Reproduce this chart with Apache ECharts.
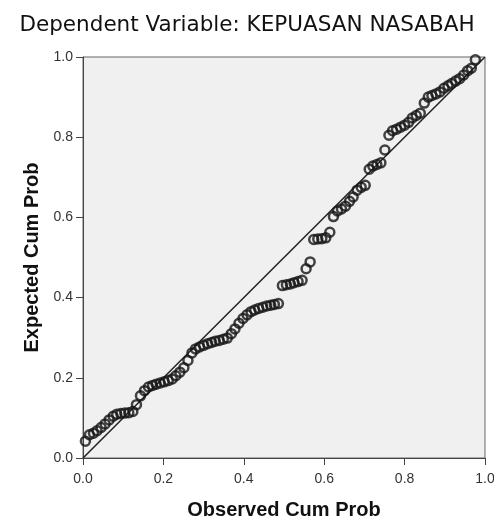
<!DOCTYPE html>
<html>
<head>
<meta charset="utf-8">
<script src="https://cdn.jsdelivr.net/npm/echarts@6/dist/echarts.min.js"></script>
<style>
  html, body { margin: 0; padding: 0; background: #fff; }
  #chart { width: 494px; height: 522px; }
</style>
</head>
<body>
<div id="chart"></div>
<script>
// observed cumulative probability (x) per case
var observedCumProb = [
  0.006, 0.016, 0.026, 0.035, 0.045, 0.055, 0.065, 0.075, 0.084, 0.094,
  0.104, 0.114, 0.124, 0.133, 0.143, 0.153, 0.163, 0.173, 0.182, 0.192,
  0.202, 0.212, 0.222, 0.231, 0.241, 0.251, 0.261, 0.271, 0.280, 0.290,
  0.300, 0.310, 0.320, 0.329, 0.339, 0.349, 0.359, 0.369, 0.378, 0.388,
  0.398, 0.408, 0.418, 0.427, 0.437, 0.447, 0.457, 0.467, 0.476, 0.486,
  0.496, 0.506, 0.516, 0.525, 0.535, 0.545, 0.555, 0.565, 0.574, 0.584,
  0.594, 0.604, 0.614, 0.623, 0.633, 0.643, 0.653, 0.663, 0.672, 0.682,
  0.692, 0.702, 0.712, 0.721, 0.731, 0.741, 0.751, 0.761, 0.770, 0.780,
  0.790, 0.800, 0.810, 0.819, 0.829, 0.839, 0.849, 0.859, 0.868, 0.878,
  0.888, 0.898, 0.908, 0.917, 0.927, 0.937, 0.947, 0.957, 0.966, 0.976
];
// expected cumulative probability (y) per case
var expectedCumProb = [
  0.042, 0.058, 0.062, 0.068, 0.076, 0.085, 0.095, 0.104, 0.109, 0.111,
  0.112, 0.113, 0.116, 0.133, 0.155, 0.168, 0.177, 0.181, 0.184, 0.187,
  0.190, 0.193, 0.197, 0.205, 0.214, 0.225, 0.243, 0.262, 0.272, 0.277,
  0.281, 0.285, 0.288, 0.291, 0.293, 0.296, 0.299, 0.310, 0.322, 0.336,
  0.348, 0.357, 0.365, 0.369, 0.373, 0.376, 0.379, 0.381, 0.383, 0.385,
  0.430, 0.432, 0.434, 0.437, 0.440, 0.443, 0.472, 0.489, 0.545, 0.546,
  0.547, 0.549, 0.563, 0.602, 0.616, 0.621, 0.628, 0.640, 0.651, 0.668,
  0.675, 0.680, 0.720, 0.728, 0.732, 0.736, 0.768, 0.805, 0.816, 0.820,
  0.825, 0.830, 0.837, 0.848, 0.854, 0.860, 0.885, 0.900, 0.904, 0.908,
  0.913, 0.922, 0.928, 0.934, 0.940, 0.946, 0.955, 0.966, 0.972, 0.993
];
// reference diagonal
var diagonal = [0, 1];

var points = observedCumProb.map(function (x, i) {
  return [x, expectedCumProb[i]];
});

var chart = echarts.init(document.getElementById('chart'), null, { renderer: 'canvas' });

var font = '"Liberation Sans", Arial, sans-serif';

chart.setOption({
  animation: false,
  backgroundColor: '#fff',
  title: {
    text: 'Dependent Variable: KEPUASAN NASABAH',
    left: 'center',
    top: 9,
    textStyle: {
      fontFamily: '"DejaVu Sans", sans-serif',
      fontSize: 21.5,
      fontWeight: 'normal',
      color: '#111'
    }
  },
  grid: {
    left: 83,
    right: 9,
    top: 57,
    bottom: 64,
    show: true,
    backgroundColor: '#f0f0f0',
    borderColor: '#666',
    borderWidth: 1,
    outerBoundsMode: 'none'
  },
  xAxis: {
    type: 'value',
    min: 0,
    max: 1,
    interval: 0.2,
    name: 'Observed Cum Prob',
    nameLocation: 'middle',
    nameGap: 42,
    nameTextStyle: { fontFamily: font, fontSize: 20, fontWeight: 'bold', color: '#111' },
    axisLine: { show: true, lineStyle: { color: '#444', width: 1 } },
    axisTick: { show: true, length: 7, lineStyle: { color: '#444' } },
    axisLabel: {
      fontFamily: font, fontSize: 14, color: '#333', margin: 14,
      formatter: function (v) { return v.toFixed(1); }
    },
    splitLine: { show: false }
  },
  yAxis: {
    type: 'value',
    min: 0,
    max: 1,
    interval: 0.2,
    name: 'Expected Cum Prob',
    nameLocation: 'middle',
    nameGap: 37,
    nameTextStyle: { fontFamily: font, fontSize: 20, fontWeight: 'bold', color: '#111' },
    axisLine: { show: true, lineStyle: { color: '#444', width: 1 } },
    axisTick: { show: true, length: 7, lineStyle: { color: '#444' } },
    axisLabel: {
      fontFamily: font, fontSize: 14, color: '#333', margin: 10,
      formatter: function (v) { return v.toFixed(1); }
    },
    splitLine: { show: false }
  },
  series: [
    {
      type: 'line',
      data: [[diagonal[0], diagonal[0]], [diagonal[1], diagonal[1]]],
      symbol: 'none',
      lineStyle: { color: '#222', width: 1.5 },
      silent: true,
      z: 2
    },
    {
      type: 'scatter',
      data: points,
      symbol: 'circle',
      symbolSize: 9,
      itemStyle: {
        color: 'rgba(0,0,0,0)',
        borderColor: '#151515',
        borderWidth: 2.5
      },
      z: 3
    }
  ]
});
</script>
</body>
</html>
